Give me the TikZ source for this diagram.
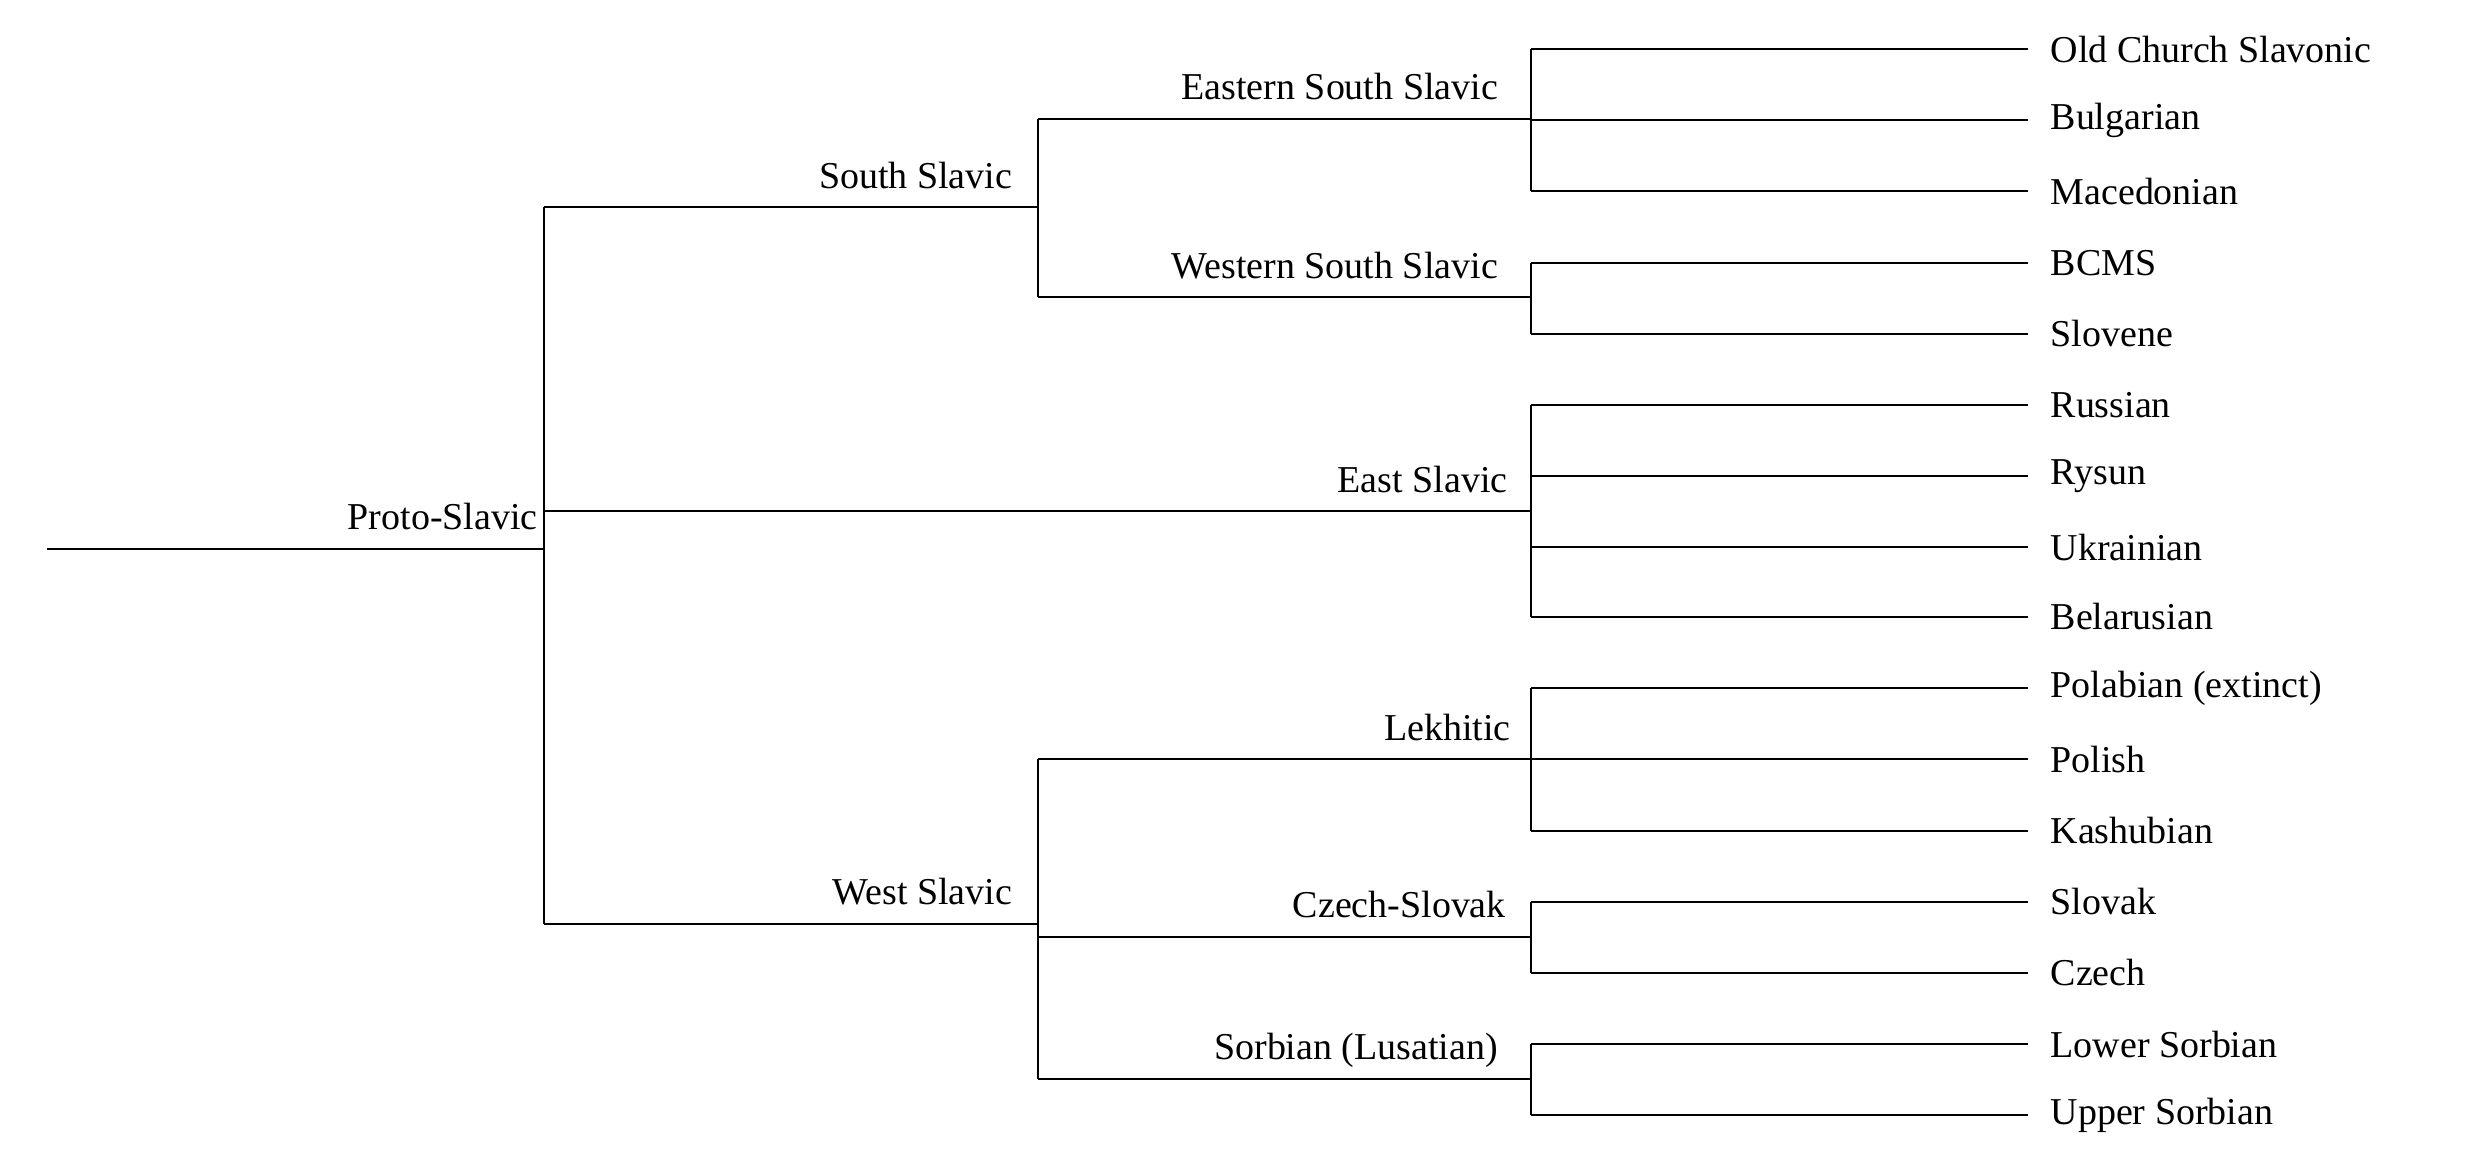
\documentclass[tikz,border=0pt]{standalone}
\usepackage{fontspec}
\setmainfont{Liberation Serif}
\begin{document}
\begin{tikzpicture}[x=1pt,y=-1pt,
  ln/.style={line width=1.3pt},
  leaf/.style={anchor=west,inner sep=0pt,font=\fontsize{24}{28}\selectfont},
  lab/.style={anchor=base east,inner sep=0pt,font=\fontsize{24}{28}\selectfont}]
\useasboundingbox (0,0) rectangle (1560,736);
% joints
\coordinate (r0) at (30,347);
\coordinate (r) at (344,347);
\coordinate (ss) at (656,131);
\coordinate (es) at (968,323);
\coordinate (ws) at (656,584);
\coordinate (ess) at (968,75);
\coordinate (wss) at (968,188);
\coordinate (lk) at (968,480);
\coordinate (cs) at (968,592);
\coordinate (sb) at (968,682);
\draw[ln] (r0) -- (r);
\draw[ln] (344,131) -- (344,584);
\draw[ln] (344,131) -- (ss);
\draw[ln] (344,323) -- (es);
\draw[ln] (344,584) -- (ws);
\draw[ln] (656,75) -- (656,188);
\draw[ln] (656,75) -- (ess);
\draw[ln] (656,188) -- (wss);
\draw[ln] (656,480) -- (656,682);
\draw[ln] (656,480) -- (lk);
\draw[ln] (656,592) -- (cs);
\draw[ln] (656,682) -- (sb);
% labels
\node[lab] (lps) at (340,335) {Proto-Slavic};
\node[lab] (lss) at (640,119) {South Slavic};
\node[lab] (les) at (953,311) {East Slavic};
\node[lab] (lws) at (640,572) {West Slavic};
\node[lab] (less) at (947,63) {Eastern South Slavic};
\node[lab] (lwss) at (947,176) {Western South Slavic};
\node[lab] (llk) at (955,468) {Lekhitic};
\node[lab] (lcs) at (952,580) {Czech-Slovak};
\node[lab] (lsb) at (947,670) {Sorbian (Lusatian)};
% leaves
\newcommand{\grp}[3]{%
  \draw[ln] (968,#1) -- (968,#2);
  \foreach \yy/\nm/\tx in {#3} {
    \node[leaf] (\nm) at (1296,\yy) {\tx};
    \draw[ln] (968,\yy) -- (\nm.west -| 1282,0);
  }}
\grp{31}{121}{31/ocs/Old Church Slavonic,76/bul/Bulgarian,121/mac/Macedonian}
\grp{166}{211}{166/bcms/BCMS,211/slo/Slovene}
\grp{256}{390}{256/rus/Russian,301/rys/Rysun,346/ukr/Ukrainian,390/bel/Belarusian}
\grp{435}{525}{435/pol/Polabian (extinct),480/pl/Polish,525/kas/Kashubian}
\grp{570}{615}{570/svk/Slovak,615/cz/Czech}
\grp{660}{705}{660/ls/Lower Sorbian,705/us/Upper Sorbian}
\end{tikzpicture}
\end{document}
